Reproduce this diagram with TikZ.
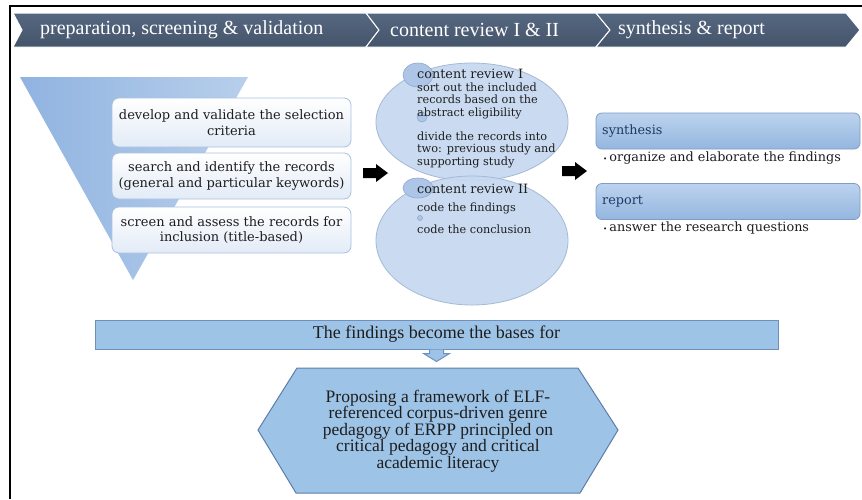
\documentclass[tikz,border=0pt]{standalone}
\usepackage{fontspec}
\setmainfont{Liberation Serif}
\newfontfamily\wserif{DejaVu Serif}
\usetikzlibrary{shapes.geometric}
\definecolor{banner}{HTML}{44546A}
\definecolor{bannerhi}{HTML}{566781}
\definecolor{funnelL}{HTML}{90B3E0}
\definecolor{funnelR}{HTML}{B8CFEC}
\definecolor{fboxdraw}{HTML}{A9C1DF}
\definecolor{fboxbot}{HTML}{E2EBF7}
\definecolor{ellfill}{HTML}{C6D9F0}
\definecolor{elldraw}{HTML}{A3B9D6}
\definecolor{bubfill}{HTML}{ADC6E7}
\definecolor{bubdraw}{HTML}{8DA9D0}
\definecolor{sboxtop}{HTML}{BCD3EE}
\definecolor{sboxbot}{HTML}{94B6DF}
\definecolor{sboxdraw}{HTML}{7E9DC4}
\definecolor{navy}{HTML}{1F3864}
\definecolor{txt}{HTML}{1E1E1E}
\definecolor{findfill}{HTML}{9DC3E6}
\definecolor{finddraw}{HTML}{6F8FBF}
\definecolor{hexdraw}{HTML}{5E7DAA}
\tikzset{
  bannerseg/.style={top color=bannerhi, bottom color=banner, draw=white, line width=1pt},
  bannertext/.style={anchor=west, inner sep=0, text=white, font=\fontsize{20}{24}\selectfont},
  funnel/.style={left color=funnelL, right color=funnelR},
  fbox/.style={rounded corners=7pt, draw=fboxdraw, line width=0.8pt, top color=white, bottom color=fboxbot,
    minimum width=239pt, align=center, inner sep=0, text=txt, font=\wserif\fontsize{13}{15.5}\selectfont},
  bigell/.style={ellipse, draw=elldraw, line width=0.8pt, fill=ellfill, fill opacity=0.92, inner sep=0, minimum width=192pt},
  bubble/.style={ellipse, draw=bubdraw, line width=0.6pt, fill=bubfill, inner sep=0},
  ellhead/.style={anchor=base west, inner sep=0, text=txt, font=\wserif\fontsize{12.8}{14}\selectfont},
  ellbody/.style={anchor=base west, inner sep=0, text=txt, font=\wserif\fontsize{11.3}{12.5}\selectfont},
  blockarrow/.style={fill=black},
  sbox/.style={rounded corners=6pt, draw=sboxdraw, line width=0.8pt, top color=sboxtop, bottom color=sboxbot,
    minimum width=264pt, minimum height=36pt, inner sep=0},
  shead/.style={anchor=west, inner sep=0, text=navy, font=\wserif\fontsize{12.8}{14}\selectfont},
  sbullet/.style={anchor=west, inner sep=0, text=txt, font=\wserif\fontsize{12.8}{14}\selectfont},
  findbox/.style={fill=findfill, draw=finddraw, line width=1pt, minimum width=683pt, minimum height=29pt,
    inner sep=0, font=\fontsize{18}{20}\selectfont, text=txt},
  findarrow/.style={fill=findfill, draw=finddraw, line width=1pt},
  hexa/.style={fill=findfill, draw=hexdraw, line width=1pt},
  hextext/.style={align=center, inner sep=0, text=txt, font=\fontsize{17.5}{16.5}\selectfont}
}
\begin{document}
\begin{tikzpicture}[x=1pt,y=-1pt]
\useasboundingbox (0,0) rectangle (862,499);
\fill[white] (0,0) rectangle (862,499);
% frame
\draw[line width=1.6pt] (10,499) -- (10,6) -- (862,6);

% banner
\path[bannerseg] (13,13) -- (366,13) -- (379,30) -- (366,47) -- (13,47) -- (22,30) -- cycle;
\path[bannerseg] (366,13) -- (596,13) -- (610,30) -- (596,47) -- (366,47) -- (379,30) -- cycle;
\path[bannerseg] (596,13) -- (846,13) -- (860,30) -- (846,47) -- (596,47) -- (610,30) -- cycle;
\node[bannertext] (b1) at (40,30) {preparation, screening \& validation};
\node[bannertext] (b2) at (390,30) {content review I \& II};
\node[bannertext] (b3) at (618,30) {synthesis \& report};

% funnel
\path[funnel] (20,77) -- (248,77) -- (133,280) -- cycle;
\node[fbox, minimum height=49pt] (d1) at (231.5,122.5) {develop and validate the selection\\criteria};
\node[fbox, minimum height=46pt] (d2) at (231.5,176) {search and identify the records\\(general and particular keywords)};
\node[fbox, minimum height=46pt] (d3) at (231.5,230) {screen and assess the records for\\inclusion (title-based)};

% arrow 1
\coordinate (a1) at (363,173);
\path[blockarrow] (a1) ++(0,-5) -- ++(13,0) -- ++(0,-4) -- ++(12,9) -- ++(-12,9) -- ++(0,-4) -- ++(-13,0) -- cycle;

% ellipses
\node[bigell, minimum height=118pt] (cr1) at (472,122) {};
\node[bigell, minimum height=129pt] (cr2) at (472,240.5) {};
\node[bubble, minimum width=30pt, minimum height=24pt] (u1) at (418,75) {};
\node[bubble, minimum width=10pt, minimum height=10pt] (u2) at (422,117) {};
\node[bubble, minimum width=30pt, minimum height=20pt] (u3) at (418,188) {};
\node[bubble, minimum width=5pt, minimum height=5pt] (u4) at (420,218) {};

\node[ellhead] (t1) at (417,78) {content review I};
\node[ellbody] (t2) at (417,91) {sort out the included};
\node[ellbody] (t3) at (417,103.5) {records based on the};
\node[ellbody] (t4) at (417,116) {abstract eligibility};
\node[ellbody] (t5) at (417,140) {divide the records into};
\node[ellbody] (t6) at (417,152.5) {two: previous study and};
\node[ellbody] (t7) at (417,165) {supporting study};
\node[ellhead] (t8) at (417,193) {content review II};
\node[ellbody] (t9) at (417,211) {code the findings};
\node[ellbody] (t10) at (417,233) {code the conclusion};

% arrow 2
\coordinate (a2) at (562,171);
\path[blockarrow] (a2) ++(0,-5) -- ++(13,0) -- ++(0,-4) -- ++(12,9) -- ++(-12,9) -- ++(0,-4) -- ++(-13,0) -- cycle;

% synthesis & report
\node[sbox] (syn) at (728,131) {};
\node[shead] (synt) at (602,131) {synthesis};
\node[sbullet] (synb) at (603,158) {{\fontsize{7}{7}\selectfont •}\,organize and elaborate the findings};
\node[sbox] (rep) at (728,201.5) {};
\node[shead] (rept) at (602,201.5) {report};
\node[sbullet] (repb) at (603,228) {{\fontsize{7}{7}\selectfont •}\,answer the research questions};

% findings
\node[findbox] (find) at (436.5,334.5) {The findings become the bases for};
\path[findarrow] (find.south) ++(-7,0) -- ++(0,4) -- ++(-6,0) -- ++(13,8) -- ++(13,-8) -- ++(-6,0) -- ++(0,-4);

% hexagon
\path[hexa] (258,430) -- (297,368) -- (578,368) -- (618,430) -- (580,493) -- (296,493) -- cycle;
\node[hextext] (prop) at (438,431) {Proposing a framework of ELF-\\referenced corpus-driven genre\\pedagogy of ERPP principled on\\critical pedagogy and critical\\academic literacy};
\end{tikzpicture}
\end{document}
